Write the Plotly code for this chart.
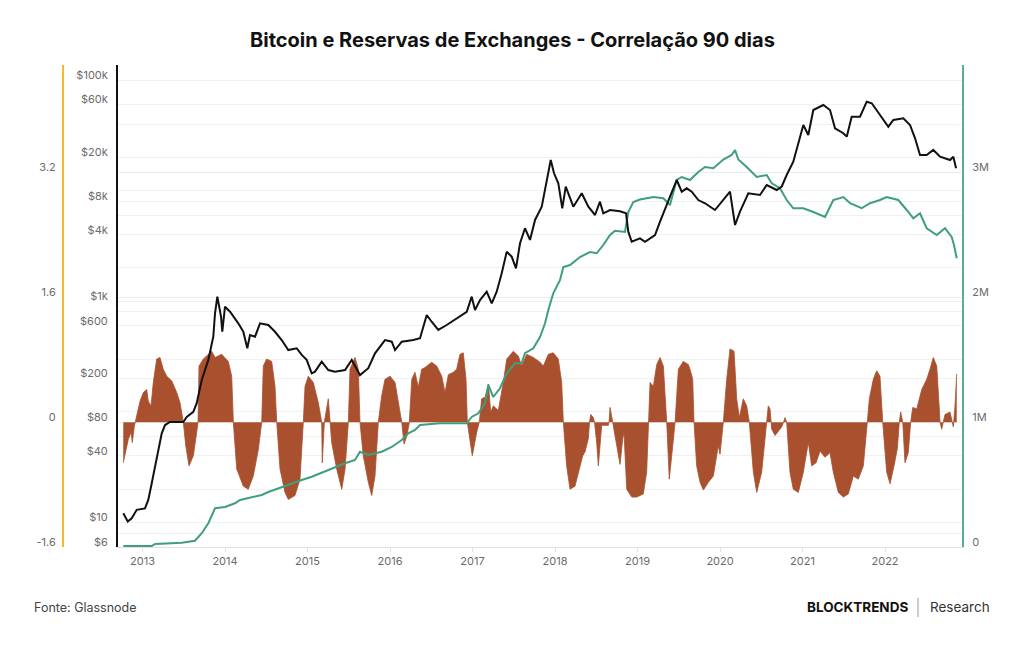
import math
import plotly.graph_objects as go

# ---------------- data (x in decimal years) ----------------
price_t = [2012.767, 2012.821, 2012.869, 2012.930, 2013.030, 2013.070, 2013.112, 2013.152, 2013.192, 2013.233,
           2013.273, 2013.333, 2013.434, 2013.495, 2013.536, 2013.616, 2013.657, 2013.718, 2013.798, 2013.858,
           2013.879, 2013.907, 2013.952, 2013.967, 2014.000, 2014.061, 2014.161, 2014.222, 2014.270, 2014.303,
           2014.364, 2014.424, 2014.525, 2014.606, 2014.687, 2014.767, 2014.869, 2014.930, 2014.990, 2015.051,
           2015.091, 2015.172, 2015.252, 2015.333, 2015.455, 2015.536, 2015.636, 2015.737, 2015.818, 2015.879,
           2015.939, 2016.021, 2016.061, 2016.142, 2016.282, 2016.364, 2016.445, 2016.505, 2016.585, 2016.687,
           2016.808, 2016.930, 2016.990, 2017.030, 2017.091, 2017.172, 2017.233, 2017.293, 2017.354, 2017.415,
           2017.475, 2017.527, 2017.576, 2017.636, 2017.697, 2017.758, 2017.839, 2017.900, 2017.948, 2017.988,
           2018.040, 2018.088, 2018.130, 2018.222, 2018.324, 2018.404, 2018.485, 2018.545, 2018.585, 2018.667,
           2018.788, 2018.861, 2018.888, 2018.930, 2019.030, 2019.091, 2019.212, 2019.273, 2019.333, 2019.394,
           2019.475, 2019.536, 2019.596, 2019.657, 2019.737, 2019.818, 2019.939, 2020.040, 2020.121, 2020.182,
           2020.242, 2020.343, 2020.485, 2020.566, 2020.687, 2020.748, 2020.808, 2020.888, 2020.970, 2021.010,
           2021.070, 2021.131, 2021.252, 2021.333, 2021.394, 2021.495, 2021.536, 2021.596, 2021.697, 2021.778,
           2021.839, 2021.939, 2022.040, 2022.101, 2022.222, 2022.303, 2022.364, 2022.424, 2022.505, 2022.585,
           2022.667, 2022.788, 2022.828, 2022.861]
price_usd = [12.1, 10.2, 10.9, 13.0, 13.4, 16.0, 22.6, 31.9, 45, 64,
             76, 81, 81, 81, 90, 100, 120, 194, 295, 478,
             778, 1100, 725, 530, 893, 804, 632, 530, 376, 495,
             478, 632, 610, 530, 446, 362, 376, 327, 295, 223,
             231, 284, 239, 231, 239, 295, 215, 248, 338, 388,
             446, 431, 362, 431, 446, 463, 751, 653, 550, 610,
             701, 804, 1100, 834, 1026, 1220, 958, 1220, 1791, 2806,
             2530, 1986, 3342, 4571, 3582, 5434, 7164, 12480, 18930, 14358,
             11646, 6924, 10866, 7164, 9468, 7164, 6024, 7944, 6240, 6684,
             6500, 6240, 4257, 3454, 3708, 3454, 3972, 5238, 6684, 8814,
             12480, 9792, 10500, 9792, 8226, 7692, 6684, 8226, 9792, 4890,
             6456, 9468, 9138, 11250, 10140, 10900, 13848, 18288, 31854, 39276,
             31854, 53598, 59460, 53598, 36654, 33048, 30774, 46680, 46680, 63720,
             61680, 48324, 37860, 43566, 45096, 39276, 29730, 21000, 21000, 23340,
             20286, 18930, 20286, 15930]

reserve_t = [2012.767, 2013.112, 2013.152, 2013.475, 2013.636, 2013.718, 2013.798, 2013.839, 2013.879, 2014.000,
             2014.121, 2014.182, 2014.282, 2014.445, 2014.525, 2014.646, 2014.767, 2014.930, 2015.051, 2015.252,
             2015.455, 2015.576, 2015.636, 2015.737, 2015.899, 2016.021, 2016.142, 2016.222, 2016.303, 2016.364,
             2016.606, 2016.930, 2016.990, 2017.070, 2017.152, 2017.192, 2017.252, 2017.333, 2017.415, 2017.515,
             2017.596, 2017.636, 2017.737, 2017.818, 2017.879, 2017.919, 2017.979, 2018.061, 2018.101, 2018.182,
             2018.303, 2018.424, 2018.505, 2018.585, 2018.667, 2018.727, 2018.848, 2018.888, 2018.949, 2019.030,
             2019.192, 2019.313, 2019.394, 2019.475, 2019.536, 2019.636, 2019.737, 2019.818, 2019.919, 2020.040,
             2020.141, 2020.182, 2020.222, 2020.323, 2020.445, 2020.566, 2020.627, 2020.727, 2020.808, 2020.888,
             2021.010, 2021.131, 2021.273, 2021.373, 2021.495, 2021.576, 2021.717, 2021.818, 2021.939, 2022.020,
             2022.161, 2022.263, 2022.343, 2022.424, 2022.505, 2022.627, 2022.727, 2022.808, 2022.836, 2022.869]
reserve_mbtc = [0.008, 0.008, 0.024, 0.035, 0.05, 0.11, 0.19, 0.256, 0.31, 0.32,
                0.35, 0.376, 0.39, 0.416, 0.44, 0.47, 0.496, 0.536, 0.562, 0.616,
                0.67, 0.696, 0.762, 0.736, 0.762, 0.80, 0.856, 0.91, 0.936, 0.976,
                0.99, 0.99, 1.04, 1.07, 1.15, 1.296, 1.20, 1.27, 1.39, 1.47,
                1.47, 1.55, 1.59, 1.68, 1.79, 1.896, 2.03, 2.136, 2.24, 2.256,
                2.32, 2.36, 2.35, 2.416, 2.496, 2.53, 2.52, 2.68, 2.76, 2.78,
                2.80, 2.79, 2.736, 2.936, 2.96, 2.936, 3.00, 3.04, 3.03, 3.10,
                3.136, 3.176, 3.10, 3.04, 2.96, 2.976, 2.91, 2.87, 2.776, 2.71,
                2.71, 2.68, 2.64, 2.776, 2.80, 2.75, 2.71, 2.75, 2.776, 2.80,
                2.776, 2.696, 2.63, 2.67, 2.55, 2.496, 2.55, 2.48, 2.416, 2.31]

corr_t = [2012.767, 2012.828, 2012.861, 2012.876, 2012.901, 2012.930, 2012.970, 2013.010, 2013.051, 2013.070,
          2013.103, 2013.131, 2013.172, 2013.212, 2013.252, 2013.293, 2013.354, 2013.415, 2013.455, 2013.495,
          2013.524, 2013.564, 2013.616, 2013.657, 2013.673, 2013.685, 2013.737, 2013.839, 2013.879, 2013.960,
          2014.040, 2014.081, 2014.101, 2014.142, 2014.222, 2014.282, 2014.343, 2014.404, 2014.445, 2014.464,
          2014.505, 2014.566, 2014.606, 2014.627, 2014.667, 2014.727, 2014.767, 2014.848, 2014.909, 2014.949,
          2014.970, 2015.010, 2015.070, 2015.131, 2015.172, 2015.179, 2015.204, 2015.252, 2015.273, 2015.293,
          2015.354, 2015.415, 2015.455, 2015.495, 2015.515, 2015.576, 2015.616, 2015.636, 2015.676, 2015.737,
          2015.778, 2015.818, 2015.858, 2015.879, 2015.899, 2015.939, 2016.000, 2016.061, 2016.101, 2016.142,
          2016.170, 2016.206, 2016.234, 2016.264, 2016.303, 2016.343, 2016.384, 2016.424, 2016.505, 2016.566,
          2016.627, 2016.667, 2016.707, 2016.767, 2016.808, 2016.848, 2016.888, 2016.921, 2016.937, 2016.970,
          2016.997, 2017.051, 2017.082, 2017.111, 2017.152, 2017.192, 2017.221, 2017.252, 2017.313, 2017.373,
          2017.415, 2017.495, 2017.555, 2017.596, 2017.657, 2017.737, 2017.818, 2017.858, 2017.919, 2017.979,
          2018.040, 2018.081, 2018.101, 2018.141, 2018.182, 2018.242, 2018.303, 2018.336, 2018.364, 2018.404,
          2018.418, 2018.433, 2018.464, 2018.479, 2018.505, 2018.525, 2018.566, 2018.646, 2018.655, 2018.667,
          2018.699, 2018.727, 2018.788, 2018.821, 2018.836, 2018.869, 2018.930, 2018.990, 2019.070, 2019.111,
          2019.130, 2019.152, 2019.192, 2019.233, 2019.273, 2019.313, 2019.354, 2019.385, 2019.427, 2019.455,
          2019.495, 2019.555, 2019.616, 2019.636, 2019.669, 2019.685, 2019.717, 2019.758, 2019.798, 2019.859,
          2019.919, 2019.979, 2020.000, 2020.040, 2020.081, 2020.121, 2020.170, 2020.202, 2020.234, 2020.282,
          2020.323, 2020.355, 2020.404, 2020.445, 2020.505, 2020.558, 2020.570, 2020.585, 2020.606, 2020.618,
          2020.627, 2020.667, 2020.707, 2020.748, 2020.770, 2020.788, 2020.808, 2020.848, 2020.888, 2020.949,
          2021.010, 2021.070, 2021.111, 2021.164, 2021.212, 2021.273, 2021.333, 2021.373, 2021.434, 2021.495,
          2021.555, 2021.616, 2021.676, 2021.737, 2021.785, 2021.810, 2021.858, 2021.899, 2021.939, 2021.972,
          2022.020, 2022.061, 2022.109, 2022.149, 2022.173, 2022.190, 2022.215, 2022.242, 2022.282, 2022.311,
          2022.336, 2022.384, 2022.445, 2022.505, 2022.545, 2022.585, 2022.627, 2022.667, 2022.687, 2022.727,
          2022.788, 2022.828, 2022.848, 2022.869]
corr_val = [-0.52, -0.22, -0.13, -0.26, -0.05, 0.08, 0.27, 0.38, 0.42, 0.27,
            0.21, 0.51, 0.81, 0.83, 0.68, 0.59, 0.53, 0.38, 0.25, 0.0,
            -0.30, -0.56, -0.43, -0.13, 0.0, 0.72, 0.81, 0.91, 0.83, 0.87,
            0.78, 0.59, 0.0, -0.60, -0.82, -0.86, -0.69, -0.35, 0.0, 0.72,
            0.81, 0.78, 0.46, 0.0, -0.60, -0.90, -0.99, -0.94, -0.73, 0.0,
            0.46, 0.59, 0.51, 0.25, 0.0, -0.52, 0.0, 0.30, 0.0, -0.26,
            -0.60, -0.86, -0.60, 0.0, 0.68, 0.83, 0.68, 0.0, -0.43, -0.77,
            -0.94, -0.69, 0.0, 0.21, 0.34, 0.55, 0.59, 0.51, 0.25, 0.0,
            -0.28, -0.17, 0.0, 0.55, 0.64, 0.45, 0.68, 0.70, 0.77, 0.72,
            0.59, 0.38, 0.61, 0.64, 0.68, 0.87, 0.89, 0.55, 0.0, -0.21,
            -0.43, -0.13, 0.0, 0.30, 0.32, 0.49, 0.13, 0.21, 0.15, 0.51,
            0.81, 0.91, 0.85, 0.72, 0.87, 0.83, 0.77, 0.72, 0.87, 0.89,
            0.81, 0.51, 0.0, -0.56, -0.86, -0.82, -0.56, -0.43, -0.38, -0.21,
            0.0, 0.10, 0.06, 0.0, -0.26, -0.56, -0.04, -0.04, 0.0, 0.19,
            0.0, -0.17, -0.54, -0.21, -0.13, -0.86, -0.96, -0.96, -0.92, -0.64,
            0.0, 0.51, 0.46, 0.74, 0.83, 0.72, 0.0, -0.73, -0.30, 0.0,
            0.68, 0.78, 0.74, 0.68, 0.55, 0.0, -0.56, -0.77, -0.87, -0.77,
            -0.69, -0.30, -0.41, 0.0, 0.55, 0.94, 0.91, 0.30, 0.06, 0.30,
            0.21, 0.0, -0.64, -0.90, -0.64, -0.13, 0.0, 0.21, 0.17, 0.0,
            -0.09, -0.17, -0.11, -0.06, 0.0, 0.06, 0.0, -0.64, -0.86, -0.90,
            -0.64, -0.26, -0.56, -0.52, -0.37, -0.45, -0.39, -0.64, -0.90, -0.96,
            -0.92, -0.69, -0.73, -0.56, 0.0, 0.30, 0.55, 0.66, 0.59, 0.0,
            -0.64, -0.79, -0.56, -0.34, 0.0, 0.13, 0.0, -0.52, -0.39, 0.0,
            0.19, 0.17, 0.42, 0.55, 0.68, 0.83, 0.72, 0.0, -0.09, 0.10,
            0.13, -0.06, 0.21, 0.62]

year_ticks = [2013, 2014, 2015, 2016, 2017, 2018, 2019, 2020, 2021, 2022]
year_labels = ["2013", "2014", "2015", "2016", "2017", "2018", "2019", "2020", "2021", "2022"]

price_grid = [6, 8, 10, 20, 40, 60, 80, 100, 200, 300, 600, 800, 1000, 2000, 4000, 6000, 8000,
              10000, 20000, 40000, 60000, 100000]
price_labels = ["$6", "", "$10", "", "$40", "", "$80", "", "$200", "", "$600", "", "$1k", "", "$4k", "",
                "$8k", "", "$20k", "", "$60k", "$100k"]

corr_ticks = [-1.6, 0, 1.6, 3.2]
corr_labels = ["-1.6", "0", "1.6", "3.2"]

reserve_ticks = [0, 1, 2, 3]
reserve_labels = ["0", "1M", "2M", "3M"]

# ---------------- figure ----------------
W, H = 1024, 645
L, R, T, B = 118, 962, 65, 547   # plot area in pixels

BAR = "#A9512F"
GREEN = "#3F9E7D"
AXGREEN = "#5DAE91"
YELLOW = "#F6B928"
TICKC = "#6b6b6b"
FONT = "Inter, Roboto, sans-serif"

fig = go.Figure()
fig.add_trace(go.Scatter(x=corr_t, y=corr_val, mode="lines", fill="tozeroy",
                         line=dict(color=BAR, width=0.8), fillcolor=BAR,
                         yaxis="y", hoverinfo="skip"))
fig.add_trace(go.Scatter(x=reserve_t, y=reserve_mbtc, mode="lines",
                         line=dict(color=GREEN, width=2), yaxis="y2"))
fig.add_trace(go.Scatter(x=price_t, y=price_usd, mode="lines",
                         line=dict(color="#111111", width=2), yaxis="y3"))

tick_font = dict(family=FONT, size=11, color=TICKC)
SHIFT = -5

fig.update_layout(
    template="none",
    width=W, height=H,
    margin=dict(l=0, r=0, t=T, b=H - B, pad=0),
    paper_bgcolor="white", plot_bgcolor="white",
    showlegend=False,
    font=dict(family=FONT, color="#222"),
    xaxis=dict(domain=[L / W, R / W], range=[2012.703, 2022.933],
               tickmode="array", tickvals=year_ticks, ticktext=year_labels,
               showline=True, linecolor="#e2e2e2", linewidth=1,
               ticks="outside", ticklen=4, tickcolor="#e2e2e2",
               showgrid=False, zeroline=False, tickfont=tick_font, automargin=False),
    yaxis=dict(range=[-1.6, 4.58], anchor="free", position=63 / W, side="left",
               showline=True, linecolor=YELLOW, linewidth=2,
               tickmode="array", tickvals=corr_ticks, ticktext=corr_labels,
               ticks="", showgrid=False, zeroline=False, tickfont=tick_font,
               ticklabelshift=SHIFT, ticklabelstandoff=4, automargin=False),
    yaxis2=dict(range=[0, 3.856], overlaying="y", anchor="x", side="right",
                showline=True, linecolor=AXGREEN, linewidth=2,
                tickmode="array", tickvals=reserve_ticks, ticktext=reserve_labels,
                ticks="", showgrid=True, gridcolor="#ececec", gridwidth=1, zeroline=False,
                tickfont=tick_font, ticklabelshift=SHIFT, ticklabelstandoff=6, automargin=False),
    yaxis3=dict(type="log", range=[math.log10(6), math.log10(136800)], overlaying="y",
                anchor="x", side="left",
                showline=True, linecolor="#111111", linewidth=2,
                tickmode="array", tickvals=price_grid, ticktext=price_labels,
                ticks="", showgrid=True, gridcolor="#f0f0f0", gridwidth=1, zeroline=False,
                tickfont=tick_font, ticklabelshift=SHIFT, ticklabelstandoff=6, automargin=False),
)

def py(pix):
    return (B - pix) / (B - T)

fig.add_annotation(text="<b>Bitcoin e Reservas de Exchanges - Correlação 90 dias</b>",
                   xref="paper", yref="paper", x=0.5, y=py(40), xanchor="center", yanchor="middle",
                   showarrow=False, font=dict(family=FONT, size=20, color="#111"))
fig.add_annotation(text="Fonte: Glassnode", xref="paper", yref="paper", x=32 / W, y=py(607),
                   xanchor="left", yanchor="middle", showarrow=False,
                   font=dict(family=FONT, size=12.5, color="#444"))
fig.add_annotation(text="<b>BLOCKTRENDS</b>", xref="paper", yref="paper", x=910 / W, y=py(607),
                   xanchor="right", yanchor="middle", showarrow=False,
                   font=dict(family=FONT, size=13.5, color="#111"))
fig.add_annotation(text="Research", xref="paper", yref="paper", x=928 / W, y=py(607),
                   xanchor="left", yanchor="middle", showarrow=False,
                   font=dict(family=FONT, size=13.5, color="#333"))
fig.add_shape(type="line", xref="paper", yref="paper", x0=918 / W, x1=918 / W,
              y0=py(617), y1=py(598), line=dict(color="#999", width=1))

fig.write_html("out.html")
